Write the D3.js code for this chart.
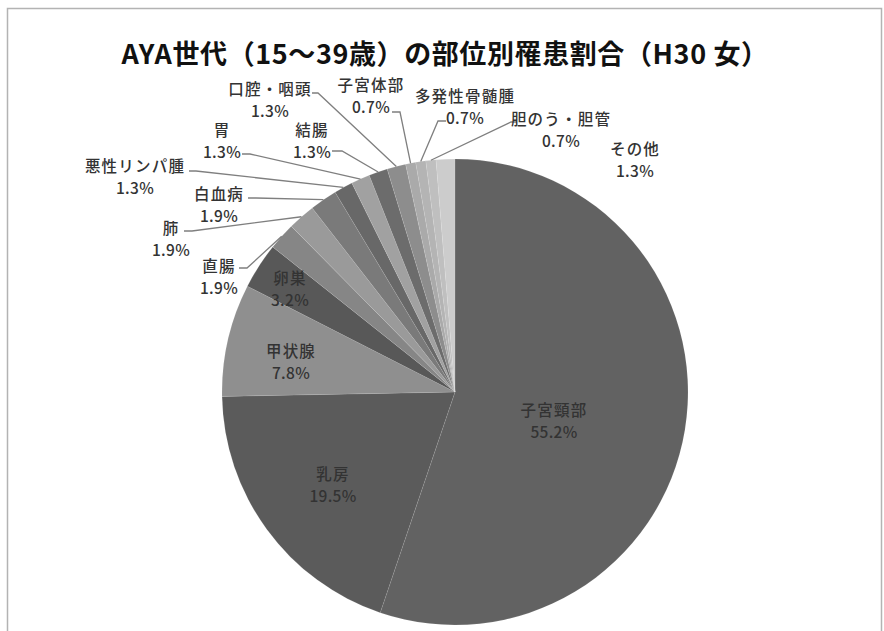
<!DOCTYPE html>
<html lang="ja">
<head>
<meta charset="utf-8">
<script src="https://cdn.jsdelivr.net/npm/d3@7/dist/d3.min.js"></script>
<style>
  html, body { margin: 0; padding: 0; background: #fff; }
  svg { display: block; }
  text { font-family: "Noto Sans CJK JP", "Noto Sans", sans-serif; }
</style>
</head>
<body>
<svg id="chart" width="884" height="631"></svg>
<script>
// Cancer sites, share of cases (%), slice fills
const categories = ["子宮頸部", "乳房", "甲状腺", "卵巣", "直腸", "肺", "白血病", "悪性リンパ腫",
  "胃", "結腸", "口腔・咽頭", "子宮体部", "多発性骨髄腫", "胆のう・胆管", "その他"];
const shares = [55.2, 19.5, 7.8, 3.2, 1.9, 1.9, 1.9, 1.3, 1.3, 1.3, 1.3, 0.7, 0.7, 0.7, 1.3];
const sliceColors = ["#626262", "#5b5b5b", "#8f8f8f", "#585858", "#868686", "#9a9a9a", "#7a7a7a",
  "#686868", "#a1a1a1", "#6c6c6c", "#8d8d8d", "#aaaaaa", "#b4b4b4", "#bfbfbf", "#cccccc"];
const titleText = "AYA世代（15～39歳）の部位別罹患割合（H30 女）";

// Label placement: text centre (x, first-line y); outside labels also get a leader start and stub end
const labelLayout = [
  { x: 554, y: 409 },
  { x: 333, y: 473 },
  { x: 291, y: 350 },
  { x: 290, y: 277 },
  { x: 219, y: 265, lead: [[239, 268], [247, 268]] },
  { x: 171, y: 227, lead: [[184, 231], [192, 231]] },
  { x: 219, y: 193, lead: [[248, 198], [256, 198]] },
  { x: 135, y: 165, lead: [[189, 171], [196, 171]] },
  { x: 222, y: 129, lead: [[242, 154], [250, 154]] },
  { x: 312, y: 129, lead: [[332, 151], [342, 151]] },
  { x: 270, y: 88,  lead: [[312, 93], [318, 93]] },
  { x: 371, y: 84,  lead: [[392, 112], [400, 112]] },
  { x: 465, y: 95,  lead: [[446, 121], [438, 121]] },
  { x: 561, y: 118, lead: [[517, 122], [511, 122]] },
  { x: 635, y: 148 }
];

const svg = d3.select("#chart");
const H = 631;
const cx = 455, cy = 392, R = 233;
const lineGap = 22;

// chart area frame
svg.append("rect")
  .attr("x", 7.5).attr("y", 8.5)
  .attr("width", 874).attr("height", H + 20)
  .attr("fill", "#fff")
  .attr("stroke", "#b3b3b3")
  .attr("stroke-width", 1.5);

// title
svg.append("text")
  .attr("x", 445).attr("y", 52)
  .attr("text-anchor", "middle")
  .attr("dominant-baseline", "central")
  .attr("font-size", 27)
  .attr("font-weight", "bold")
  .attr("letter-spacing", 0.6)
  .attr("fill", "#111")
  .text(titleText);

const rows = categories.map((c, i) => ({ name: c, value: shares[i], color: sliceColors[i], layout: labelLayout[i] }));

const pie = d3.pie().sort(null).value(d => d.value);
const arcs = pie(rows);
const arc = d3.arc().innerRadius(0).outerRadius(R);
const edge = d3.arc().innerRadius(R).outerRadius(R);

const g = svg.append("g").attr("transform", `translate(${cx},${cy})`);

g.selectAll("path.slice")
  .data(arcs)
  .join("path")
  .attr("class", "slice")
  .attr("d", arc)
  .attr("fill", d => d.data.color)
  .attr("stroke", "rgba(255,255,255,0.12)")
  .attr("stroke-width", 0.8);

// leader lines from label stub to slice edge
svg.selectAll("path.leader")
  .data(arcs.filter(d => d.data.layout.lead))
  .join("path")
  .attr("class", "leader")
  .attr("d", d => {
    const [p0, p1] = d.data.layout.lead;
    const [ex, ey] = edge.centroid(d);
    return d3.line()([p0, p1, [cx + ex, cy + ey]]);
  })
  .attr("fill", "none")
  .attr("stroke", "#7f7f7f")
  .attr("stroke-width", 1.3);

// two-line labels: name and share
const fmt = v => v.toFixed(1) + "%";
const labels = svg.selectAll("g.label")
  .data(arcs)
  .join("g")
  .attr("class", "label");

labels.append("text")
  .attr("x", d => d.data.layout.x)
  .attr("y", d => d.data.layout.y)
  .attr("text-anchor", "middle")
  .attr("dominant-baseline", "central")
  .attr("font-size", 15.5)
  .attr("font-weight", 500)
  .attr("letter-spacing", 1.2)
  .attr("fill", "#333")
  .text(d => d.data.name);

labels.append("text")
  .attr("x", d => d.data.layout.x)
  .attr("y", d => d.data.layout.y + lineGap)
  .attr("text-anchor", "middle")
  .attr("dominant-baseline", "central")
  .attr("font-size", 15.5)
  .attr("font-weight", 500)
  .attr("letter-spacing", 0.3)
  .attr("fill", "#333")
  .text(d => fmt(d.data.value));
</script>
</body>
</html>
